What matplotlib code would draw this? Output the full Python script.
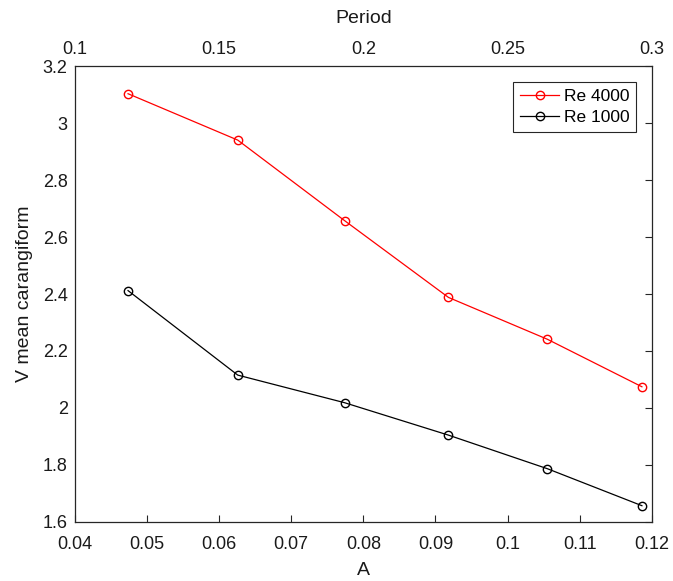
import matplotlib
matplotlib.use("Agg")
import matplotlib.pyplot as plt

# amplitude A (bottom axis) and mean velocity
A = [0.0474, 0.0626, 0.0774, 0.0918, 0.1055, 0.1186]
v_re4000 = [3.104, 2.941, 2.658, 2.388, 2.241, 2.074]
v_re1000 = [2.412, 2.115, 2.018, 1.904, 1.786, 1.656]
period_ticks = [0.1, 0.15, 0.2, 0.25, 0.3]
a_ticks = [0.04, 0.05, 0.06, 0.07, 0.08, 0.09, 0.1, 0.11, 0.12]
v_ticks = [1.6, 1.8, 2.0, 2.2, 2.4, 2.6, 2.8, 3.0, 3.2]

plt.rcParams['font.family'] = ['Liberation Sans', 'DejaVu Sans']
axc = '#262626'
txc = '#1a1a1a'

fig = plt.figure(figsize=(6.73, 5.81), dpi=100)
ax = fig.add_axes([0.1109, 0.1022, 0.8579, 0.7835])

ax.plot(A, v_re4000, color='red', marker='o', markersize=6, mfc='none',
        linewidth=0.9, label='Re 4000')
ax.plot(A, v_re1000, color='black', marker='o', markersize=6, mfc='none',
        linewidth=0.9, label='Re 1000')

ax.set_xlim(0.04, 0.12)
ax.set_ylim(1.6, 3.2)
ax.set_xticks(a_ticks)
ax.set_xticklabels([f"{t:g}" for t in a_ticks])
ax.set_yticks(v_ticks)
ax.set_yticklabels([f"{t:g}" for t in v_ticks])
ax.tick_params(direction='in', top=True, right=True, length=5, width=0.8,
               labelsize=13, colors=axc, labelcolor=txc)
ax.tick_params(axis='x', pad=10)
ax.tick_params(axis='y', left=False, pad=5)
ax.set_xlabel('A', fontsize=14, color=txc, labelpad=7)
ax.set_ylabel('V mean carangiform', fontsize=14, color=txc, labelpad=7)
for s in ax.spines.values():
    s.set_color(axc)
    s.set_linewidth(0.9)

leg = ax.legend(loc='upper right', fontsize=12.5, fancybox=False,
                edgecolor=axc, framealpha=1, handlelength=2.2,
                borderpad=0.4, labelspacing=0.35, handletextpad=0.3,
                borderaxespad=0.9)
leg.get_frame().set_linewidth(0.8)

ax2 = ax.twiny()
ax2.set_xlim(0.1, 0.3)
ax2.set_xticks(period_ticks)
ax2.set_xticklabels([f"{t:g}" for t in period_ticks])
ax2.tick_params(direction='in', length=0, labelsize=13, labelcolor=txc, pad=6)
ax2.set_xlabel('Period', fontsize=14, color=txc, labelpad=13)
for s in ax2.spines.values():
    s.set_visible(False)

fig.savefig('out.png', dpi=100)
